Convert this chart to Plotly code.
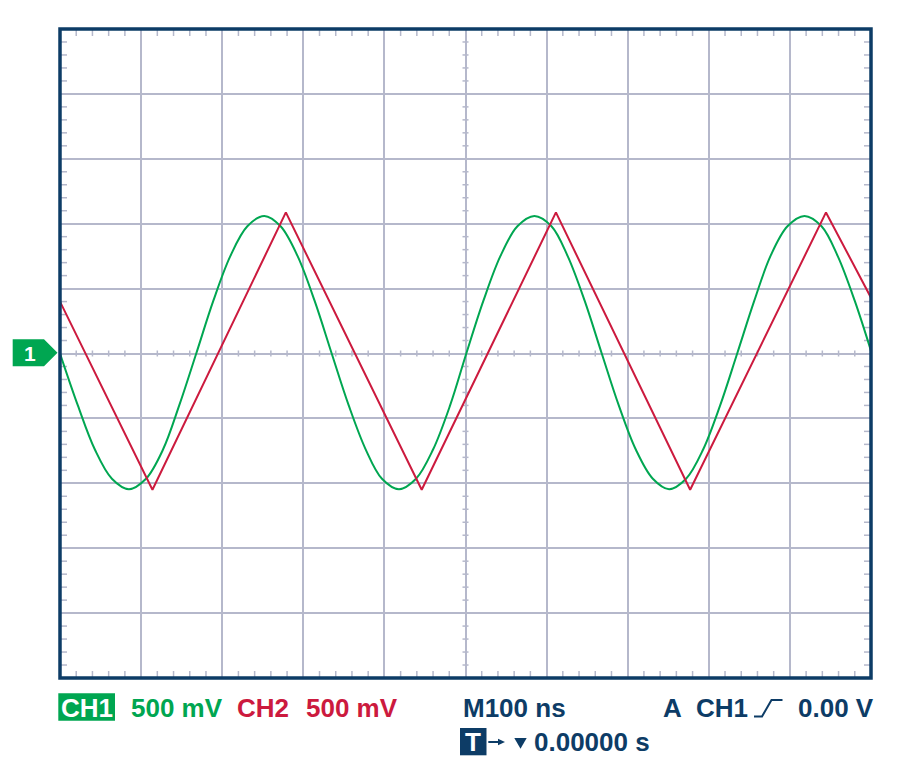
import plotly.graph_objects as go

# --- data (time in ns, voltage in mV) ---
ch1_time_ns = [0, 22, 43, 64, 85, 106, 127, 147, 168, 189, 210, 231, 252,
               272, 293, 314, 335, 356, 377, 397, 418, 439, 460, 481, 501,
               522, 543, 564, 585, 606, 626, 647, 668, 689, 710, 731, 751,
               772, 793, 814, 835, 856, 876, 897, 918, 939, 959, 980, 1000]
ch1_mv = [0, -400, -740, -965, -1045, -965, -740, -400, 0, 405, 750, 980, 1060,
          980, 750, 405, 0, -400, -740, -965, -1045, -965, -740, -400, 0,
          405, 750, 980, 1060, 980, 750, 405, 0, -400, -740, -965, -1045,
          -965, -740, -400, 0, 405, 750, 980, 1060, 980, 750, 405, 20]

ch2_time_ns = [0, 114, 278.5, 446, 611.5, 777, 944.5, 1000]
ch2_mv = [400, -1050, 1087, -1050, 1087, -1050, 1087, 430]

ns_per_div = 100
mv_per_div = 500
n_div = 10

GREEN = "#00a651"
RED = "#cc1a3e"
NAVY = "#0d3c66"
GRID = "#b5b8cb"
FONT = "Liberation Sans, Arial, sans-serif"

# the page body adds an 8 px margin, so the figure is drawn 8 px smaller
OFF = 8
FIG_W, FIG_H = 900 - OFF, 763 - OFF
# plot area in screen pixels (used only for decorations)
L, T, W, H = 60, 29, 811, 649
x_max = ns_per_div * n_div
y_max = mv_per_div * n_div / 2


def px(x):
    return (x - L) / W


def py(y):
    return (T + H - y) / H


def paper_path(pts, close=False):
    p = "M " + " L ".join(f"{px(a):.5f},{py(b):.5f}" for a, b in pts)
    return p + " Z" if close else p


fig = go.Figure()

fig.add_trace(go.Scatter(
    x=ch1_time_ns, y=ch1_mv, mode="lines",
    line=dict(color=GREEN, width=2, shape="spline", smoothing=1.0),
    hoverinfo="skip", showlegend=False,
))
fig.add_trace(go.Scatter(
    x=ch2_time_ns, y=ch2_mv, mode="lines",
    line=dict(color=RED, width=2),
    hoverinfo="skip", showlegend=False,
))

shapes = []

# small graticule ticks: 5 per division, on edges and centre lines
tx = 7 * x_max / W           # 7 px in ns
ty = 7 * (2 * y_max) / H     # 7 px in mV
cx = 3 * x_max / W
cy = 3 * (2 * y_max) / H
tick_line = dict(color=GRID, width=1.5)
for k in range(1, n_div * 5):
    if k % 5 == 0:
        continue
    t = k * ns_per_div / 5
    for y0, y1 in [(y_max, y_max - ty), (-y_max, -y_max + ty), (-cy, cy)]:
        shapes.append(dict(type="line", xref="x", yref="y", x0=t, x1=t,
                           y0=y0, y1=y1, line=tick_line, layer="below"))
    v = -y_max + k * mv_per_div / 5
    for x0, x1 in [(0, tx), (x_max, x_max - tx), (x_max / 2 - cx, x_max / 2 + cx)]:
        shapes.append(dict(type="line", xref="x", yref="y", x0=x0, x1=x1,
                           y0=v, y1=v, line=tick_line, layer="below"))

# frame
shapes.append(dict(type="rect", xref="paper", yref="paper", x0=0, x1=1, y0=0, y1=1,
                   line=dict(color=NAVY, width=3.5)))

# channel 1 marker on the left
shapes.append(dict(type="path", xref="paper", yref="paper",
                   path=paper_path([(12.7, 339.3), (44, 339.3), (57.5, 352.8),
                                    (44, 366.3), (12.7, 366.3)], close=True),
                   fillcolor=GREEN, line=dict(width=0)))

# CH1 box and T box
shapes.append(dict(type="rect", xref="paper", yref="paper",
                   x0=px(58.3), x1=px(115), y0=py(720.7), y1=py(693.3),
                   fillcolor=GREEN, line=dict(width=0)))
shapes.append(dict(type="rect", xref="paper", yref="paper",
                   x0=px(460), x1=px(486.5), y0=py(755.3), y1=py(728),
                   fillcolor=NAVY, line=dict(width=0)))

# rising edge trigger symbol
shapes.append(dict(type="path", xref="paper", yref="paper",
                   path=paper_path([(754, 716.5), (762, 716.5), (771.5, 700), (782.5, 700)]),
                   line=dict(color=NAVY, width=2)))

# small arrow and down-pointing triangle of the trigger position readout
shapes.append(dict(type="line", xref="paper", yref="paper",
                   x0=px(488.3), x1=px(500), y0=py(742), y1=py(742),
                   line=dict(color=NAVY, width=2)))
shapes.append(dict(type="path", xref="paper", yref="paper",
                   path=paper_path([(498, 738.8), (505, 742), (498, 745.2)], close=True),
                   fillcolor=NAVY, line=dict(width=0)))
shapes.append(dict(type="path", xref="paper", yref="paper",
                   path=paper_path([(514.3, 738), (526.7, 738), (520.5, 748.7)], close=True),
                   fillcolor=NAVY, line=dict(width=0)))


def label(text, x, y, color, size=26, anchor="left"):
    return dict(text=text, x=px(x), y=py(y), xref="paper", yref="paper",
                xanchor=anchor, yanchor="middle", showarrow=False,
                font=dict(family=FONT, size=size, color=color))


annotations = [
    label("<b>1</b>", 30, 353, "white", size=21, anchor="center"),
    label("<b>CH1</b>", 86.6, 708, "white", anchor="center"),
    label("<b>500 mV</b>", 129, 708, GREEN),
    label("<b>CH2</b>", 235, 708, RED),
    label("<b>500 mV</b>", 304, 708, RED),
    label("<b>M100 ns</b>", 460.5, 708, NAVY),
    label("<b>A</b>", 660.5, 708, NAVY),
    label("<b>CH1</b>", 694, 708, NAVY),
    label("<b>0.00 V</b>", 795.5, 708, NAVY),
    label("<b>T</b>", 473.2, 742, "white", anchor="center"),
    label("<b>0.00000 s</b>", 532, 742, NAVY),
]

fig.update_layout(
    width=FIG_W, height=FIG_H,
    margin=dict(l=L - OFF, r=900 - L - W, t=T - OFF, b=763 - T - H),
    plot_bgcolor="white", paper_bgcolor="white",
    xaxis=dict(range=[0, x_max], dtick=ns_per_div, tick0=0, showgrid=True,
               gridcolor=GRID, gridwidth=2, zeroline=False, showticklabels=False,
               ticks="", fixedrange=True),
    yaxis=dict(range=[-y_max, y_max], dtick=mv_per_div, tick0=0, showgrid=True,
               gridcolor=GRID, gridwidth=2, zeroline=False, showticklabels=False,
               ticks="", fixedrange=True),
    shapes=shapes,
    annotations=annotations,
)

fig.write_html("out.html")
